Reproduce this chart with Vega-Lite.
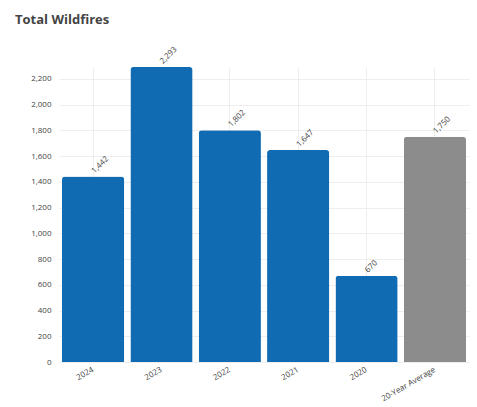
{
  "$schema": "https://vega.github.io/schema/vega-lite/v6.json",
  "autosize": "none",
  "width": 410,
  "height": 295,
  "padding": {"left": 59, "top": 67, "right": 8, "bottom": 45},
  "background": "white",
  "title": {
    "text": "Total Wildfires",
    "anchor": "start",
    "frame": "group",
    "font": "Open Sans",
    "fontSize": 13,
    "fontWeight": "bold",
    "color": "#444444",
    "dx": -44,
    "dy": -15
  },
  "data": {
    "values": [
      {"year": "2024", "fires": 1442, "kind": "year"},
      {"year": "2023", "fires": 2293, "kind": "year"},
      {"year": "2022", "fires": 1802, "kind": "year"},
      {"year": "2021", "fires": 1647, "kind": "year"},
      {"year": "2020", "fires": 670, "kind": "year"},
      {"year": "20-Year Average", "fires": 1750, "kind": "avg"}
    ]
  },
  "config": {
    "view": {"stroke": null},
    "font": "Open Sans"
  },
  "encoding": {
    "x": {
      "field": "year",
      "type": "nominal",
      "sort": null,
      "scale": {"paddingInner": 0.09, "paddingOuter": 0.044},
      "axis": {
        "title": null,
        "labelAngle": -30,
        "labelAlign": "right",
        "labelBaseline": "middle",
        "labelFontSize": 8,
        "labelColor": "#444444",
        "labelPadding": 7,
        "domain": false,
        "ticks": false,
        "grid": true,
        "bandPosition": 0.5,
        "gridColor": "#eeeeee"
      }
    },
    "y": {
      "field": "fires",
      "type": "quantitative",
      "scale": {"domain": [0, 2293], "nice": false},
      "axis": {
        "title": null,
        "values": [0, 200, 400, 600, 800, 1000, 1200, 1400, 1600, 1800, 2000, 2200],
        "format": ",.0f",
        "labelFontSize": 8,
        "labelColor": "#444444",
        "labelPadding": 8,
        "domain": false,
        "ticks": false,
        "gridColor": "#eeeeee"
      }
    }
  },
  "layer": [
    {
      "mark": {"type": "bar", "cornerRadiusTopLeft": 3, "cornerRadiusTopRight": 3},
      "encoding": {
        "color": {
          "field": "kind",
          "type": "nominal",
          "scale": {"domain": ["year", "avg"], "range": ["#106bb3", "#8c8c8c"]},
          "legend": null
        }
      }
    },
    {
      "mark": {"type": "text", "angle": -45, "align": "left", "baseline": "middle", "dx": 3, "dy": -3, "fontSize": 8, "color": "#444444"},
      "encoding": {
        "text": {"field": "fires", "type": "quantitative", "format": ","}
      }
    }
  ]
}
